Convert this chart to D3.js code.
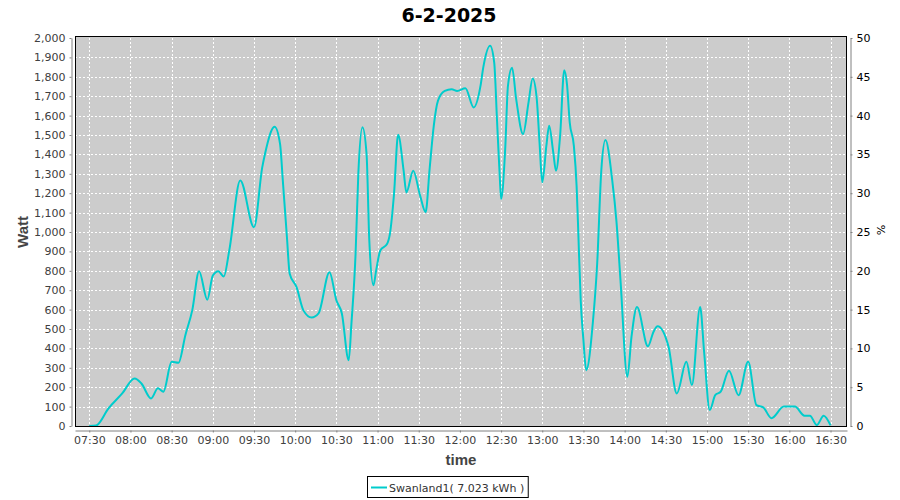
<!DOCTYPE html>
<html><head><meta charset="utf-8">
<script src="https://cdn.jsdelivr.net/npm/d3@7"></script>
<style>
body{margin:0;background:#fff;}
svg{display:block;font-family:"DejaVu Sans",sans-serif;}
</style></head>
<body>
<svg id="c" width="900" height="500"></svg>
<script>
const title = "6-2-2025";
const seriesName = "Swanland1( 7.023 kWh )";
const times = ["07:30","07:35","07:44","07:54","08:03","08:08","08:15","08:20","08:24","08:30","08:35","08:40","08:45","08:50","08:56","09:00","09:04","09:08","09:12","09:20","09:30","09:36","09:38","09:45","09:49","09:51","09:54","09:56","10:01","10:06","10:12","10:17","10:25","10:30","10:34","10:39","10:41","10:44","10:46","10:49","10:52","10:54","10:57","10:59","11:02","11:07","11:09","11:12","11:15","11:19","11:21","11:26","11:31","11:35","11:38","11:41","11:44","11:49","11:54","11:58","12:04","12:10","12:15","12:17","12:22","12:25","12:27","12:29","12:30","12:33","12:35","12:38","12:41","12:46","12:50","12:53","12:56","12:58","13:00","13:03","13:05","13:08","13:10","13:13","13:16","13:18","13:20","13:23","13:25","13:26","13:28","13:30","13:32","13:37","13:40","13:43","13:46","13:51","13:54","13:57","14:02","14:05","14:09","14:17","14:21","14:24","14:32","14:38","14:45","14:49","14:55","14:58","15:02","15:06","15:10","15:16","15:23","15:30","15:36","15:41","15:47","15:56","16:04","16:11","16:15","16:20","16:25","16:30"];
const watts = [0,3,91,168,245,219,142,194,177,331,326,468,596,798,651,776,798,771,905,1265,1025,1333,1402,1542,1453,1265,973,785,716,596,559,580,793,648,580,339,530,888,1300,1540,1402,956,725,802,905,939,990,1196,1501,1316,1204,1316,1188,1102,1330,1550,1676,1727,1736,1727,1741,1642,1753,1847,1960,1873,1582,1291,1170,1428,1753,1847,1685,1505,1668,1791,1685,1462,1256,1445,1548,1411,1316,1496,1834,1762,1565,1445,1239,1050,648,442,288,545,836,1316,1474,1265,1059,751,254,459,613,411,485,514,408,168,331,211,613,374,82,159,177,285,159,331,108,96,40,100,100,53,53,5,53,3];
const wattTicks = d3.range(0, 2001, 100);
const pctTicks = d3.range(0, 51, 5);

const svg = d3.select("#c");
const L = 75, R = 847, T = 38, B = 426;
const parse = s => { const [h,m] = s.split(":").map(Number); return new Date(2025,1,6,h,m,0); };
const x = d3.scaleTime().domain([new Date(2025,1,6,7,19,36), new Date(2025,1,6,16,42,0)]).range([L, R]);
const y = d3.scaleLinear().domain([0, 2000]).range([B, T]);
const yr = d3.scaleLinear().domain([0, 50]).range([B, T]);
const xTicks = d3.timeMinute.every(30).range(new Date(2025,1,6,7,30), new Date(2025,1,6,16,31));

// plot background
svg.append("rect").attr("x", L).attr("y", T-1).attr("width", R-L).attr("height", B-T+1).attr("fill", "#cccccc");
// grid
const g = svg.append("g").attr("stroke", "#fff").attr("stroke-width", 1).attr("stroke-dasharray", "2,2");
g.selectAll("line.h").data(wattTicks.filter(d => d > 0 && d < 2000)).enter().append("line")
  .attr("x1", L).attr("x2", R).attr("y1", d => Math.round(y(d)) + 0.5).attr("y2", d => Math.round(y(d)) + 0.5);
g.selectAll("line.v").data(xTicks).enter().append("line")
  .attr("y1", T).attr("y2", B).attr("x1", d => Math.round(x(d)) + 0.5).attr("x2", d => Math.round(x(d)) + 0.5);

// series
const data = times.map((t, i) => ({t: parse(t), v: watts[i]}));
svg.append("path").datum(data)
  .attr("fill", "none").attr("stroke", "#00cccc").attr("stroke-width", 2)
  .attr("d", d3.line().x(d => x(d.t)).y(d => y(d.v)).curve(d3.curveMonotoneX));

// border
svg.append("rect").attr("x", L + 0.5).attr("y", T - 1.5).attr("width", R - L - 1).attr("height", B - T + 2)
  .attr("fill", "none").attr("stroke", "#000").attr("stroke-width", 1);

// axes
function styleAxis(sel) {
  sel.selectAll(".domain").attr("stroke", "#808080");
  sel.selectAll(".tick line").attr("stroke", "#808080");
  sel.selectAll(".tick text").attr("fill", "#404040").style("font-size", "11px").style("font-family", "'DejaVu Sans',sans-serif");
}
const ax = svg.append("g").attr("transform", `translate(0,${B + 4.5})`)
  .call(d3.axisBottom(x).tickValues(xTicks).tickFormat(d3.timeFormat("%H:%M")).tickSize(2).tickSizeOuter(0).tickPadding(4));
styleAxis(ax);
const ayl = svg.append("g").attr("transform", `translate(${L - 3.5},0)`)
  .call(d3.axisLeft(y).tickValues(wattTicks).tickFormat(d3.format(",")).tickSize(2).tickSizeOuter(0).tickPadding(4));
styleAxis(ayl);
const ayr = svg.append("g").attr("transform", `translate(${R + 3.5},0)`)
  .call(d3.axisRight(yr).tickValues(pctTicks).tickSize(2).tickSizeOuter(0).tickPadding(4));
styleAxis(ayr);
ayr.selectAll(".tick text").attr("fill", "#000");

// titles
svg.append("text").attr("x", 449).attr("y", 22).attr("text-anchor", "middle")
  .style("font-size", "19px").style("font-weight", "bold").attr("fill", "#000").text(title);
svg.append("text").attr("transform", "translate(28,232) rotate(-90)").attr("text-anchor", "middle")
  .style("font-family", "'Liberation Sans',sans-serif")
  .style("font-size", "15px").style("font-weight", "bold").attr("fill", "#444").text("Watt");
svg.append("text").attr("transform", "translate(877,230) rotate(90)").attr("text-anchor", "middle")
  .style("font-size", "11px").attr("fill", "#000").text("%");
svg.append("text").attr("x", 461).attr("y", 465).attr("text-anchor", "middle")
  .style("font-family", "'Liberation Sans',sans-serif")
  .style("font-size", "15px").style("font-weight", "bold").attr("fill", "#444").text("time");

// legend
const lg = svg.append("g");
const lt = lg.append("text").attr("x", 389).attr("y", 492).style("font-size", "11px").attr("fill", "#333").text(seriesName);
const tw = lt.node().getComputedTextLength();
lg.insert("rect", "text").attr("x", 367.5).attr("y", 476.5).attr("width", (389 + tw + 4) - 367.5).attr("height", 21)
  .attr("fill", "#fff").attr("stroke", "#000");
lg.append("line").attr("x1", 371).attr("x2", 387).attr("y1", 487.5).attr("y2", 487.5).attr("stroke", "#00cccc").attr("stroke-width", 2);
</script>
</body></html>
